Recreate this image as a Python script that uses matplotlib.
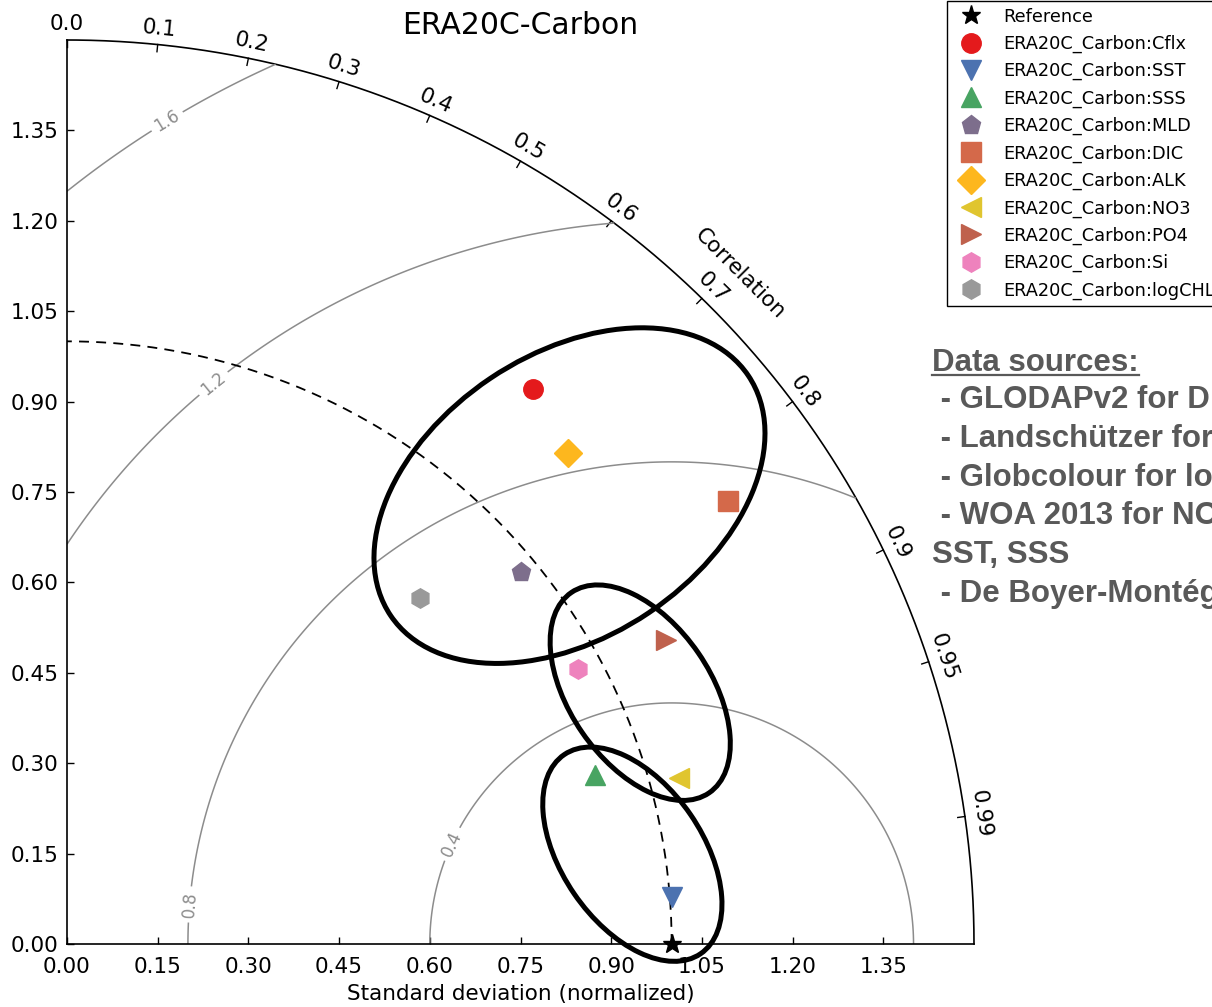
import numpy as np
import matplotlib
matplotlib.use('Agg')
import matplotlib.pyplot as plt
from matplotlib.patches import Ellipse
from matplotlib.lines import Line2D

# normalised standard deviation and correlation of each field vs. observations
labels = ['ERA20C_Carbon:Cflx', 'ERA20C_Carbon:SST', 'ERA20C_Carbon:SSS',
          'ERA20C_Carbon:MLD', 'ERA20C_Carbon:DIC', 'ERA20C_Carbon:ALK',
          'ERA20C_Carbon:NO3', 'ERA20C_Carbon:PO4', 'ERA20C_Carbon:Si',
          'ERA20C_Carbon:logCHL']
stddev = [1.201, 1.004, 0.917, 0.972, 1.318, 1.163, 1.048, 1.112, 0.961, 0.819]
corrcoef = [0.642, 0.997, 0.952, 0.773, 0.830, 0.713, 0.965, 0.891, 0.880, 0.713]
markers = ['o', 'v', '^', 'p', 's', 'D', '<', '>', 'h', 'h']
colors = ['#e41a1c', '#4c72b0', '#48a462', '#7d6e8c', '#d4694a', '#fdb71e',
          '#e0c52f', '#bf614d', '#ee82bd', '#999999']

ref_std = 1.0
srange = 1.5
std_ticks = [0.0, 0.15, 0.30, 0.45, 0.60, 0.75, 0.90, 1.05, 1.20, 1.35]
corr_ticks = [0.0, 0.1, 0.2, 0.3, 0.4, 0.5, 0.6, 0.7, 0.8, 0.9, 0.95, 0.99]
rms_levels = [0.4, 0.8, 1.2, 1.6]

sources = ['Data sources:',
           ' - GLODAPv2 for DIC, ALK',
           ' - Landschützer for Cflx',
           ' - Globcolour for logCHL',
           ' - WOA 2013 for NO3, PO4, Si,',
           'SST, SSS',
           ' - De Boyer-Montégut for MLD']

W, H = 1212, 1007
fig = plt.figure(figsize=(W / 100, H / 100), dpi=100)
ax = fig.add_axes([67 / W, 63 / H, 907 / W, 904 / H])
ax.set_xlim(0, srange)
ax.set_ylim(0, srange)
ax.spines['top'].set_visible(False)
ax.spines['right'].set_visible(False)
for s in ['left', 'bottom']:
    ax.spines[s].set_linewidth(1.2)
ax.set_xticks(std_ticks)
ax.set_yticks(std_ticks)
ax.set_xticklabels(['%.2f' % v for v in std_ticks])
ax.set_yticklabels(['%.2f' % v for v in std_ticks])
ax.tick_params(direction='in', length=5, width=1, labelsize=15.5, pad=6,
               top=False, right=False)
ax.tick_params(axis='x', pad=9.5)
ax.set_xlabel('Standard deviation (normalized)', fontsize=15.5, labelpad=5)

# outer correlation arc with its ticks
t = np.linspace(0, np.pi / 2, 300)
ax.plot(srange * np.cos(t), srange * np.sin(t), 'k-', lw=1.2, clip_on=False)
for c in corr_ticks:
    th = np.arccos(c)
    ax.plot([srange * np.cos(th), (srange - 0.012) * np.cos(th)],
            [srange * np.sin(th), (srange - 0.012) * np.sin(th)],
            'k-', lw=1, clip_on=False)
    r = srange + 0.026
    ax.text(r * np.cos(th), r * np.sin(th), str(c), fontsize=15.5,
            rotation=np.degrees(th) - 90 if c > 0 else 0,
            rotation_mode='anchor', ha='center', va='center')
th = np.radians(45)
ax.text(1.573 * np.cos(th), 1.573 * np.sin(th), 'Correlation', fontsize=15.5,
        rotation=-45, rotation_mode='anchor', ha='center', va='center')

# centred RMS difference contours
rs, ts = np.meshgrid(np.linspace(0, srange, 300), np.linspace(0, np.pi / 2, 300))
rms = np.sqrt(ref_std ** 2 + rs ** 2 - 2 * ref_std * rs * np.cos(ts))
cs = ax.contour(rs * np.cos(ts), rs * np.sin(ts), rms, levels=rms_levels,
                colors='0.55', linewidths=1.1)
ax.clabel(cs, inline=True, fontsize=12, fmt='%.1f',
          manual=[(0.634, 0.167), (0.1985, 0.066), (0.2415, 0.931), (0.165, 1.366)])

# reference std arc and point
ax.plot(ref_std * np.cos(t), ref_std * np.sin(t), 'k', ls=(0, (5.5, 4)), lw=1.3)
ax.plot([ref_std], [0], '*', color='k', ms=14, ls='', label='Reference',
        clip_on=False, zorder=5)

for s, c, m, col, lab in zip(stddev, corrcoef, markers, colors, labels):
    th = np.arccos(c)
    ax.plot(s * np.cos(th), s * np.sin(th), marker=m, ms=14, ls='', color=col,
            mec=col, label=lab, clip_on=False, zorder=5)

# hand-drawn groupings
groups = [((0.831, 0.744), 0.713, 0.469, 34),
          ((0.948, 0.417), 0.403, 0.233, -55.6),
          ((0.935, 0.149), 0.400, 0.233, -55.7)]
for xy, w, h, ang in groups:
    ax.add_patch(Ellipse(xy, w, h, angle=ang, fill=False, ec='k', lw=3.6,
                         zorder=6, clip_on=False))

fig.text(520 / W, 1 - 26 / H, 'ERA20C-Carbon', fontsize=21.5, ha='center', va='center')

leg = fig.legend(*ax.get_legend_handles_labels(), loc='upper left',
                 bbox_to_anchor=(947 / W, 0.999), borderaxespad=0, fontsize=12.8,
                 numpoints=1, labelspacing=0.515, borderpad=0.37,
                 handletextpad=0.8, fancybox=False, framealpha=1)
leg.get_frame().set_edgecolor('k')
leg.get_frame().set_linewidth(1.0)

baselines = [371, 408, 447, 486, 524, 563, 602]
txts = []
for line, yb in zip(sources, baselines):
    txts.append(fig.text(932 / W, 1 - yb / H, line, fontsize=22.5,
                         family='Liberation Sans', weight='bold', color='#595959',
                         ha='left', va='baseline'))

fig.canvas.draw()
bb = txts[0].get_window_extent()
yu = 1 - (baselines[0] + 4) / H
fig.add_artist(Line2D([bb.x0 / W, bb.x1 / W], [yu, yu], transform=fig.transFigure,
                      color='#595959', lw=1.6))

fig.savefig('out.png', dpi=100)
